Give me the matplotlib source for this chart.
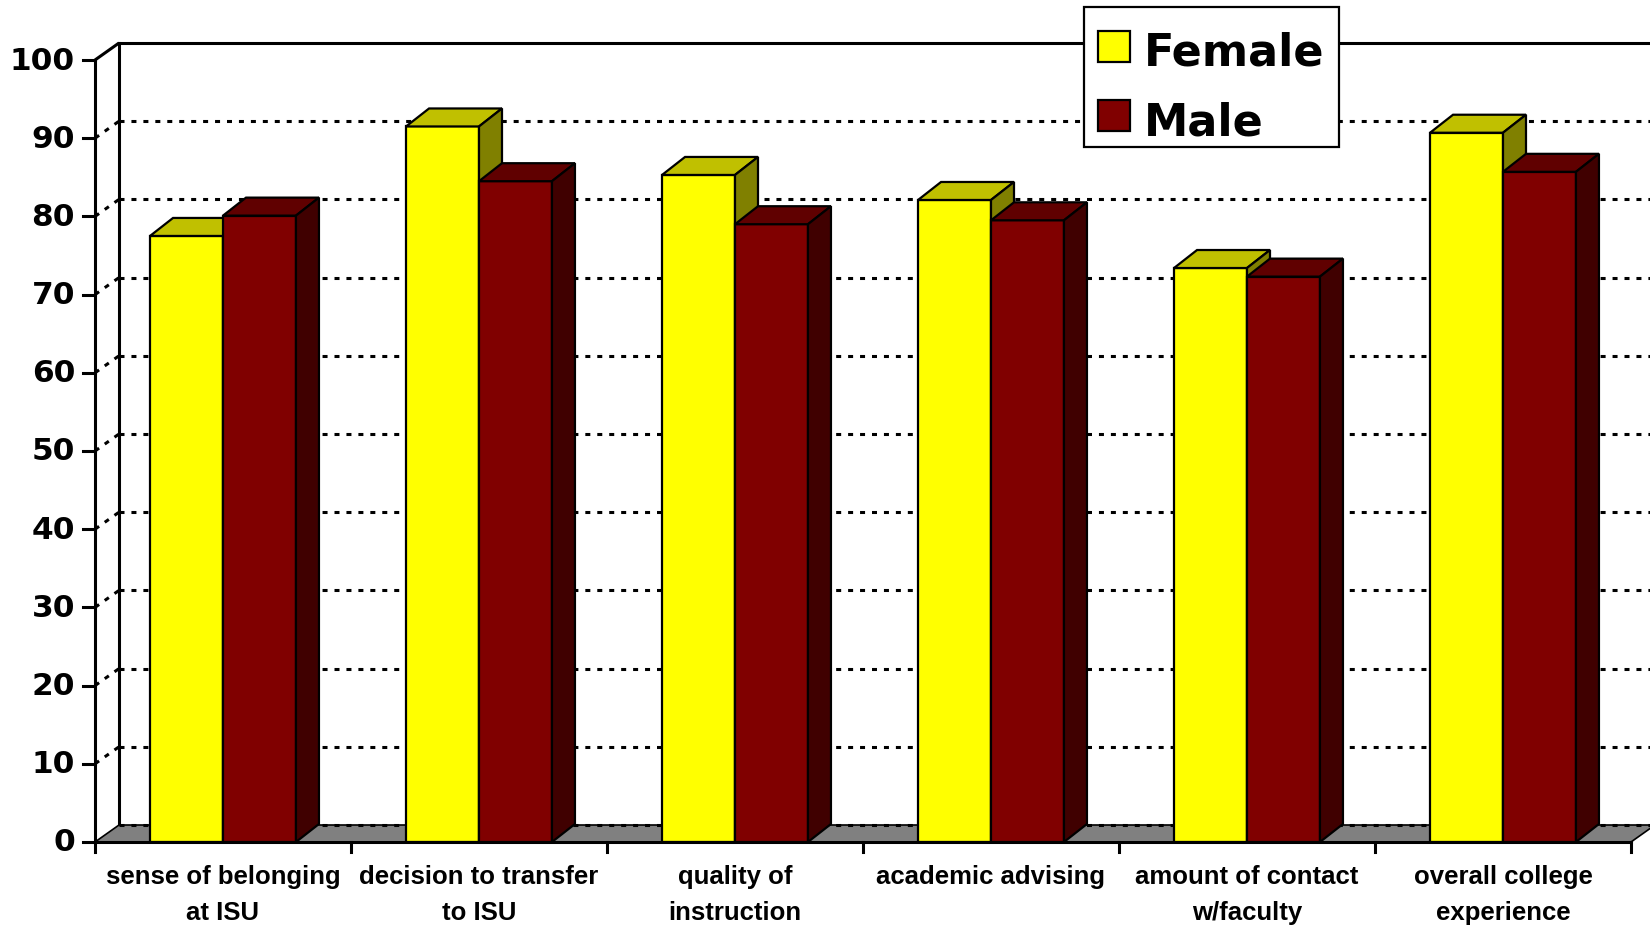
import matplotlib
matplotlib.use('Agg')
import matplotlib.pyplot as plt
from matplotlib.patches import Polygon, Rectangle

categories = ["sense of belonging\nat ISU", "decision to transfer\nto ISU", "quality of\ninstruction",
              "academic advising", "amount of contact\nw/faculty", "overall college\nexperience"]
female = [77.5, 91.5, 85.3, 82.1, 73.4, 90.7]
male = [80.1, 84.5, 79.0, 79.5, 72.3, 85.7]
series_names = ["Female", "Male"]
yticks = list(range(0, 101, 10))

front_cols = ["#FFFF00", "#800000"]
top_cols = ["#C0C000", "#600000"]
side_cols = ["#808000", "#400000"]

plt.rcParams['lines.scale_dashes'] = False

W, H = 1650, 928
fig = plt.figure(figsize=(W / 100, H / 100), dpi=100)
ax = fig.add_axes([95 / W, 85 / H, 1536 / W, 782 / H])
n = len(categories)
ax.set_xlim(0, n)
ax.set_ylim(0, 100)
ax.axis('off')

px_x = ax.bbox.width / n
px_y = ax.bbox.height / 100
wdx, wdy = 24 / px_x, 17 / px_y      # wall depth
bdx, bdy = 23 / px_x, 18 / px_y      # bar depth
xend = n + wdx + 0.2

dot = (0, (3.6, 5.0))
glw = 2.2

# gridlines on back wall and left wall
for y in yticks:
    if y == 100:
        ax.plot([0, wdx], [y, y + wdy], color='black', lw=glw, solid_capstyle='butt', clip_on=False, zorder=1)
        ax.plot([wdx, xend], [y + wdy, y + wdy], color='black', lw=glw, clip_on=False, zorder=1)
    elif y == 0:
        pass
    else:
        ax.plot([0, wdx], [y, y + wdy], color='black', lw=glw, linestyle=dot, clip_on=False, zorder=1)
        ax.plot([wdx, xend], [y + wdy, y + wdy], color='black', lw=glw, linestyle=dot, clip_on=False, zorder=1)

# back wall left edge
ax.plot([wdx, wdx], [wdy, 100 + wdy], color='black', lw=glw, clip_on=False, zorder=1)

# floor
floor = Polygon([(0, 0), (n, 0), (n + wdx, wdy), (wdx, wdy)], closed=True,
                facecolor='#808080', edgecolor='black', lw=1.2, clip_on=False, zorder=2)
ax.add_patch(floor)
ax.plot([wdx, xend], [wdy, wdy], color='black', lw=glw, linestyle=dot, clip_on=False, zorder=3)

# bars
bw = 0.285
for s, vals in enumerate([female, male]):
    xs = [i + 0.5 - bw + s * bw for i in range(n)]
    ax.bar(xs, vals, width=bw, align='edge', color=front_cols[s], edgecolor='black',
           linewidth=1.6, zorder=4 + s, clip_on=False, label=series_names[s])
    for x, h in zip(xs, vals):
        top = Polygon([(x, h), (x + bw, h), (x + bw + bdx, h + bdy), (x + bdx, h + bdy)], closed=True,
                      facecolor=top_cols[s], edgecolor='black', lw=1.6, clip_on=False, zorder=4 + s,
                      joinstyle='miter')
        side = Polygon([(x + bw, 0), (x + bw + bdx, bdy), (x + bw + bdx, h + bdy), (x + bw, h)], closed=True,
                       facecolor=side_cols[s], edgecolor='black', lw=1.6, clip_on=False, zorder=4 + s,
                       joinstyle='miter')
        ax.add_patch(top)
        ax.add_patch(side)

# front axes
ax.plot([0, 0], [0, 100], color='black', lw=glw, clip_on=False, zorder=10)
ax.plot([0, n], [0, 0], color='black', lw=glw, clip_on=False, zorder=10)
tl = 12 / px_x
for y in yticks:
    ax.plot([-tl, 0], [y, y], color='black', lw=glw, clip_on=False, zorder=10)
    ax.text(-20 / px_x, y, str(y), ha='right', va='center', fontsize=22.5, fontweight='bold',
            family='DejaVu Sans', zorder=10)
cl = 10 / px_y
for i in range(n + 1):
    ax.plot([i, i], [0, -cl], color='black', lw=glw, clip_on=False, zorder=10)

for i, c in enumerate(categories):
    ax.annotate(c, xy=(i + 0.5, 0), xytext=(0, -16), textcoords='offset points', ha='center', va='top',
                fontsize=18.5, fontweight='bold', family='Liberation Sans', linespacing=1.62,
                annotation_clip=False)

# legend (drawn manually in figure pixel layout)
def fx(px):
    return px / W

def fy(py):
    return 1 - py / H

box = Rectangle((fx(1084), fy(148)), fx(1339) - fx(1084), fy(8) - fy(148), transform=fig.transFigure,
                facecolor='white', edgecolor='black', lw=1.6, zorder=20)
fig.patches.append(box)
baselines = [66, 135]
for s, name in enumerate(series_names):
    b = baselines[s]
    sq = Rectangle((fx(1098), fy(b - 3)), fx(1130) - fx(1098), fy(b - 34) - fy(b - 3),
                   transform=fig.transFigure, facecolor=front_cols[s], edgecolor='black', lw=1.6, zorder=21)
    fig.patches.append(sq)
    fig.text(fx(1144), fy(b), name, ha='left', va='baseline', fontsize=32, fontweight='bold',
             family='DejaVu Sans', zorder=22)

fig.savefig('out.png', dpi=100)
